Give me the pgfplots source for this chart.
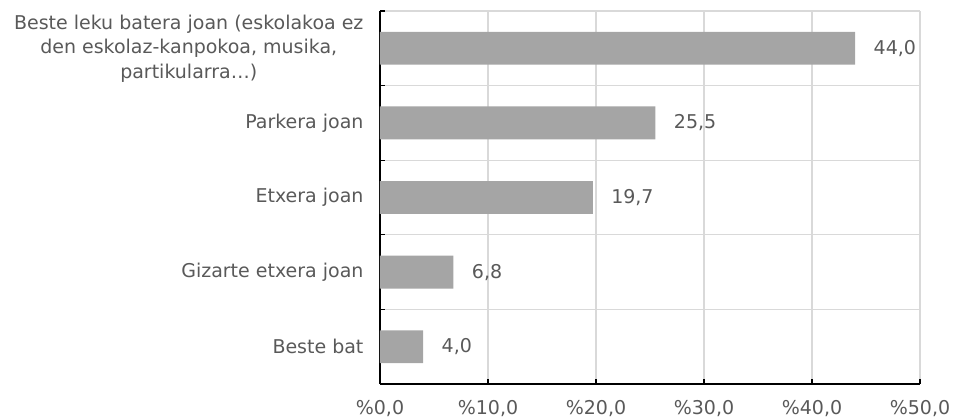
\documentclass[border=0pt]{standalone}
\usepackage{pgfplots}
\pgfplotsset{compat=1.18}
\usepackage{fontspec}
\setmainfont{DejaVu Sans}
\definecolor{bargray}{HTML}{A5A5A5}
\definecolor{txtgray}{HTML}{595959}
\definecolor{gridgray}{HTML}{D9D9D9}

\begin{document}
\fontsize{19}{24.5}\selectfont
\begin{tikzpicture}
\begin{axis}[
  name=ax,
  xbar,
  scale only axis,
  width=540pt,
  height=373pt,
  xmin=0, xmax=50,
  ymin=-0.5, ymax=4.5,
  axis lines*=left,
  axis line style={-, black, line width=1.2pt},
  xtick={0,10,...,50},
  xticklabel={\%\pgfmathprintnumber[fixed,fixed zerofill,precision=1,use comma]{\tick}},
  /pgf/number format/assume math mode=true,
  xticklabel style={yshift=-10pt},
  ytick={-0.5,0.5,...,4.5},
  yticklabels={},
  extra y ticks={0,1,2,3,4},
  extra y tick labels={Beste bat,Gizarte etxera joan,Etxera joan,Parkera joan,{Beste leku batera joan (eskolakoa ez\\den eskolaz-kanpokoa, musika,\\partikularra…)}},
  extra y tick style={major tick length=0pt, grid=none},
  yticklabel style={align=center, xshift=-10pt},
  tick label style={text=txtgray},
  tick style={black, line width=1.2pt},
  major tick length=5pt,
  tick align=inside,
  xmajorgrids, ymajorgrids,
  major grid style={gridgray, line width=1.2pt},
  bar width=0.44,
  point meta=x,
  nodes near coords={\pgfmathprintnumber[fixed,fixed zerofill,precision=1,use comma]{\pgfplotspointmeta}},
  every node near coord/.append style={text=txtgray, xshift=12pt},
]
\addplot[fill=bargray, draw=none] coordinates {
  (4.0,0) (6.8,1) (19.7,2) (25.5,3) (44.0,4)
};
\end{axis}
\pgfresetboundingbox
\path ([xshift=-380pt,yshift=-35pt]ax.south west) rectangle ++(956pt,419pt);
\end{tikzpicture}
\end{document}
